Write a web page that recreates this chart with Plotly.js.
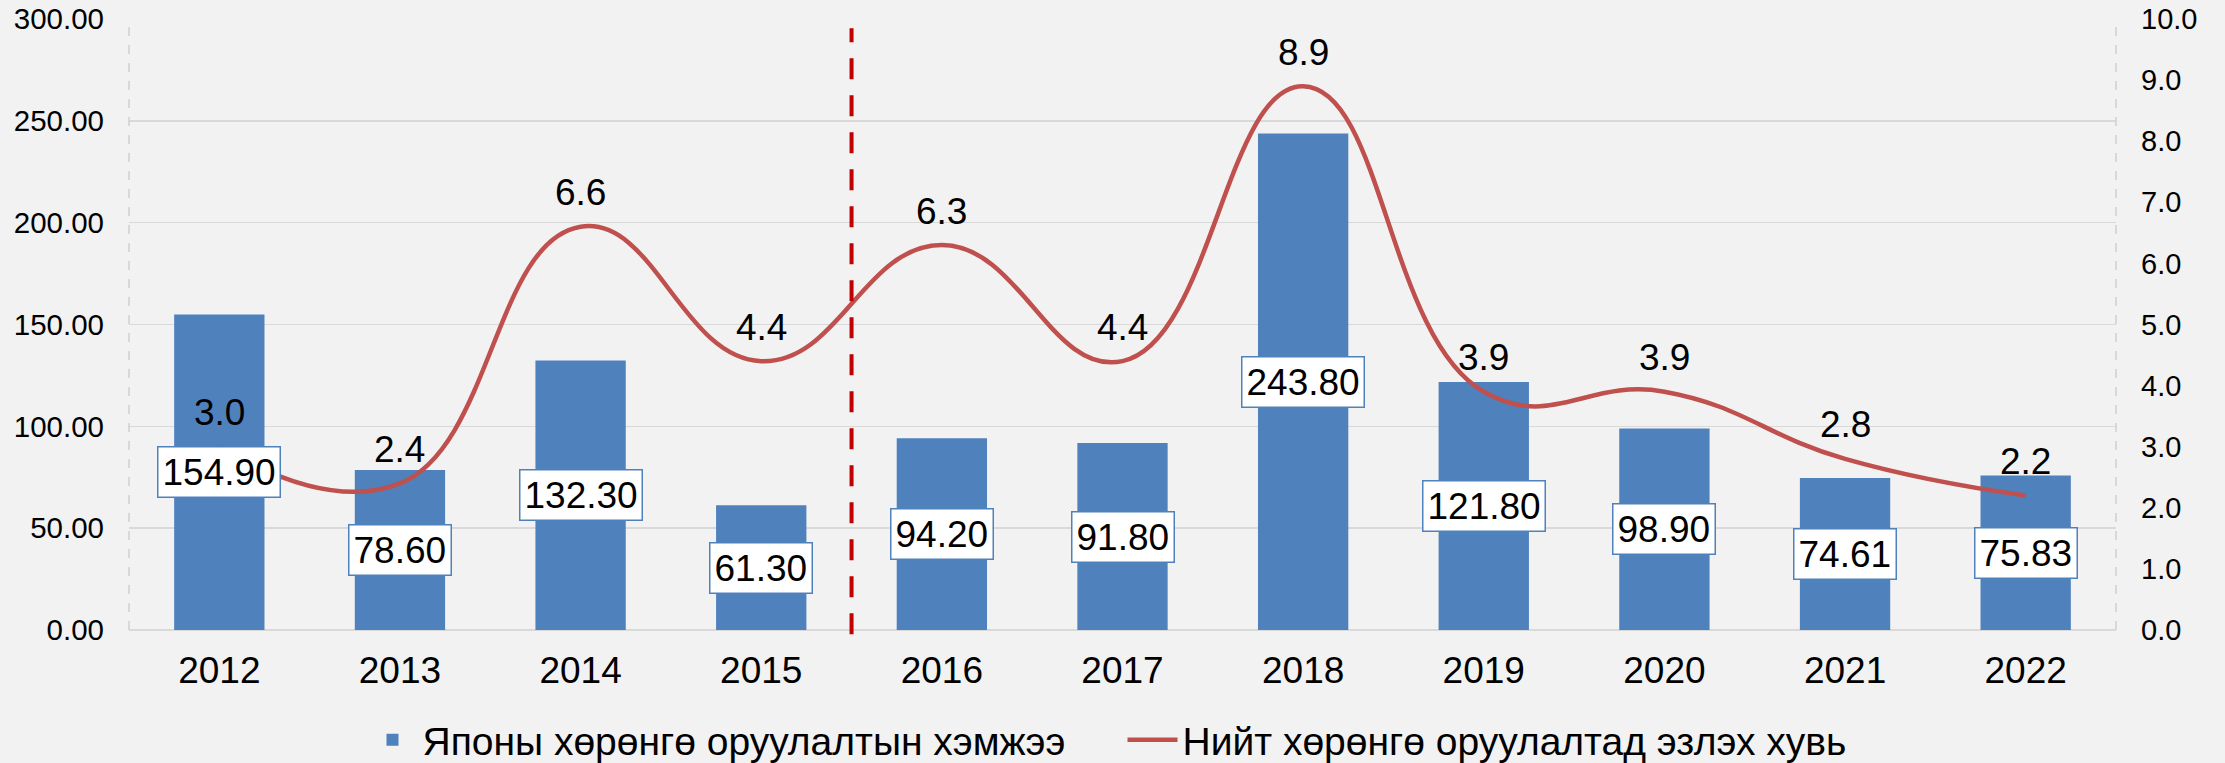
<!DOCTYPE html>
<html>
<head>
<meta charset="utf-8">
<script src="https://cdn.plot.ly/plotly-3.0.1.min.js"></script>
<style>html,body{margin:0;padding:0;background:#f2f2f2;}#chart{width:2225px;height:763px;}</style>
</head>
<body>
<div id="chart"></div>
<script>
const years = ['2012','2013','2014','2015','2016','2017','2018','2019','2020','2021','2022'];
const investment = [154.90, 78.60, 132.30, 61.30, 94.20, 91.80, 243.80, 121.80, 98.90, 74.61, 75.83];
const share = [3.0, 2.4, 6.6, 4.4, 6.3, 4.4, 8.9, 3.9, 3.9, 2.8, 2.2];
const barName = 'Японы хөрөнгө оруулалтын хэмжээ';
const lineName = 'Нийт хөрөнгө оруулалтад эзлэх хувь';
const leftTicks = [0, 50, 100, 150, 200, 250, 300];
const rightTicks = [0,1,2,3,4,5,6,7,8,9,10];

const FONT = 'Liberation Sans, Arial, sans-serif';

const traces = [
  {
    type: 'bar', x: years, y: investment, name: barName,
    marker: {color: '#4f81bd'}, yaxis: 'y'
  },
  {
    type: 'scatter', mode: 'lines', x: years, y: share, name: lineName,
    line: {color: '#c0504d', width: 4.5, shape: 'spline', smoothing: 1.3},
    yaxis: 'y2'
  }
];

const annotations = [];
years.forEach((yr, i) => {
  annotations.push({
    x: i, y: investment[i] / 2, xref: 'x', yref: 'y',
    text: investment[i].toFixed(2), showarrow: false,
    font: {family: FONT, size: 37, color: '#000'},
    bgcolor: '#ffffff', bordercolor: '#4f81bd', borderwidth: 1.5, borderpad: 4
  });
  annotations.push({
    x: i, y: share[i], xref: 'x', yref: 'y2',
    text: share[i].toFixed(1), showarrow: false, yshift: 34,
    font: {family: FONT, size: 37, color: '#000'}
  });
});

const shapes = [
  {type: 'line', xref: 'paper', yref: 'paper', x0: 0, x1: 0, y0: 0, y1: 1,
   line: {color: '#d0d0d0', width: 1.5, dash: 'dash'}},
  {type: 'line', xref: 'paper', yref: 'paper', x0: 1, x1: 1, y0: 0, y1: 1,
   line: {color: '#d0d0d0', width: 1.5, dash: 'dash'}},
  {type: 'line', xref: 'x', yref: 'paper', x0: 3.5, x1: 3.5, y0: -0.007, y1: 0.985,
   line: {color: '#c00000', width: 4, dash: '21px,16px'}}
];

const layout = {
  width: 2225, height: 763,
  paper_bgcolor: '#f2f2f2', plot_bgcolor: '#f2f2f2',
  margin: {l: 129, r: 109, t: 19, b: 133, autoexpand: false},
  font: {family: FONT, color: '#000'},
  bargap: 0.5,
  showlegend: true,
  legend: {orientation: 'h', x: 0.5, xanchor: 'center', y: -0.18, yanchor: 'middle',
           font: {family: FONT, size: 39, color: '#000'}, bgcolor: 'rgba(0,0,0,0)',
           itemwidth: 50, entrywidth: 695, entrywidthmode: 'pixels'},
  xaxis: {
    type: 'category', range: [-0.5, 10.5], autorange: false, automargin: false,
    tickfont: {family: FONT, size: 37, color: '#000'},
    showgrid: false, zeroline: false, showline: false, ticks: '', ticklabelstandoff: 15
  },
  yaxis: {
    range: [0, 300], tickvals: leftTicks, tickformat: '.2f', automargin: false,
    tickfont: {family: FONT, size: 29.5, color: '#000'},
    showgrid: true, gridcolor: '#d9d9d9', gridwidth: 1.5,
    zeroline: true, zerolinecolor: '#d9d9d9', zerolinewidth: 1.5,
    showline: false, ticks: '', ticklabelstandoff: 24
  },
  yaxis2: {
    range: [0, 10], tickvals: rightTicks, tickformat: '.1f', overlaying: 'y', side: 'right', automargin: false,
    tickfont: {family: FONT, size: 29, color: '#000'},
    showgrid: false, zeroline: false, showline: false, ticks: '', ticklabelstandoff: 24
  },
  annotations: annotations,
  shapes: shapes
};

Plotly.newPlot('chart', traces, layout, {displayModeBar: false, staticPlot: true});
</script>
</body>
</html>
